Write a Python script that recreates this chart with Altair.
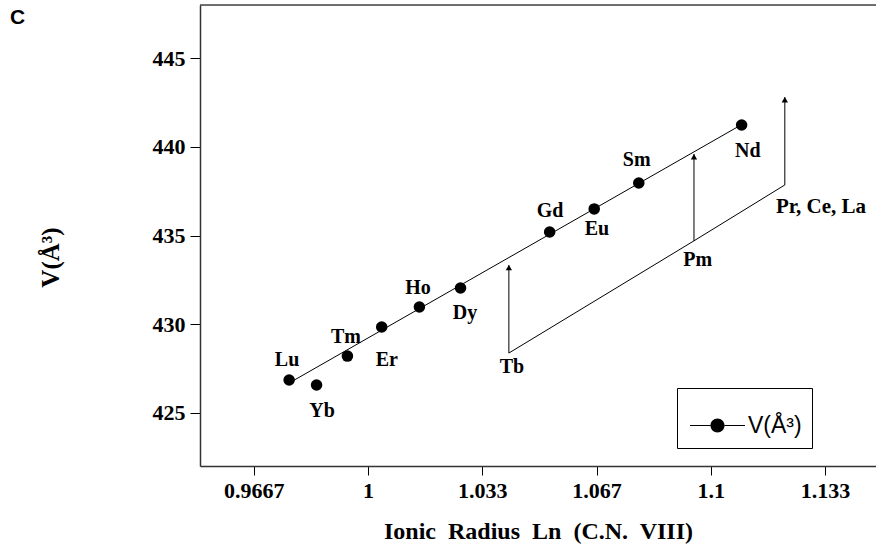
import altair as alt
import pandas as pd

# Lanthanide series: ionic radius (C.N. VIII, Å) vs. unit-cell volume (Å^3)
elements = ["Lu", "Yb", "Tm", "Er", "Ho", "Dy", "Gd", "Eu", "Sm", "Nd"]
radius = [0.977, 0.985, 0.994, 1.004, 1.015, 1.027, 1.053, 1.066, 1.079, 1.109]
volume = [426.85, 426.57, 428.20, 429.84, 430.97, 432.04, 435.20, 436.50, 437.96, 441.23]

# Straight trend line through the measured series
fit_radius = [0.977, 1.1088]
fit_volume = [426.68, 441.23]

# Ions without data: base on the shifted guide line, arrow tip above it
missing_names = ["Tb", "Pm", "Pr, Ce, La"]
missing_radius = [1.0411, 1.0951, 1.1216]
missing_base = [428.37, 434.70, 437.85]
missing_top = [433.34, 439.60, 442.81]

# Label anchors for the element names
label_text = ["Lu", "Yb", "Tm", "Er", "Ho", "Dy", "Gd", "Eu", "Sm", "Nd", "Tb", "Pm"]
label_x = [0.9764, 0.9866, 0.9936, 1.0055, 1.0146, 1.0283, 1.0531, 1.0668, 1.0784, 1.1108, 1.0420, 1.0962]
label_y = [427.98, 425.10, 429.28, 427.98, 432.04, 430.63, 436.38, 435.37, 439.26, 439.77, 427.58, 433.62]
group_label = ["Pr, Ce, La"]
group_label_x = [1.1190]
group_label_y = [436.61]

# Axis ticks
x_tick_values = [0.966667, 1.0, 1.033333, 1.066667, 1.1, 1.133333]
x_tick_labels = ["0.9667", "1", "1.033", "1.067", "1.1", "1.133"]
y_tick_values = [425, 430, 435, 440, 445]

X_DOMAIN = [0.951, 1.1482]
Y_DOMAIN = [422, 448]
series_name = "V(Å³)"

serif = "Liberation Serif"
sans = "Liberation Sans"

points = pd.DataFrame({"r": radius, "v": volume, "el": elements, "series": series_name})
fit = pd.DataFrame({"r": fit_radius, "v": fit_volume})
missing = pd.DataFrame({"r": missing_radius, "base": missing_base, "top": missing_top, "name": missing_names})
labels = pd.DataFrame({"r": label_x, "v": label_y, "t": label_text})
glabels = pd.DataFrame({"r": group_label_x, "v": group_label_y, "t": group_label})
frame_top = pd.DataFrame({"r": [X_DOMAIN[0]], "r2": [X_DOMAIN[1]], "v": [Y_DOMAIN[1]]})

# tick label lookup expression
label_expr = f"'{x_tick_labels[-1]}'"
for val, lab in reversed(list(zip(x_tick_values[:-1], x_tick_labels[:-1]))):
    label_expr = f"datum.value < {val + 0.01} ? '{lab}' : {label_expr}"

xscale = alt.Scale(domain=X_DOMAIN, nice=False, zero=False)
yscale = alt.Scale(domain=Y_DOMAIN, nice=False, zero=False)

x_axis = alt.Axis(
    values=x_tick_values, labelExpr=label_expr, grid=False,
    tickSize=9, tickColor="black", tickWidth=1,
    labelPadding=5, labelFont=serif, labelFontWeight="bold", labelFontSize=22, labelColor="black",
    domainColor="#333333", domainWidth=1.5,
    title="Ionic\u00a0 Radius\u00a0 Ln\u00a0 (C.N.\u00a0 VIII)",
    titleFont=serif, titleFontWeight="bold", titleFontSize=24, titleColor="black",
    titleY=72, titleBaseline="alphabetic",
)
y_axis = alt.Axis(
    values=y_tick_values, grid=False,
    tickSize=10, tickColor="black", tickWidth=1,
    labelPadding=5, labelFont=serif, labelFontWeight="bold", labelFontSize=22, labelColor="black",
    domainColor="#333333", domainWidth=1.5,
    title=series_name, titleFont=serif, titleFontWeight="bold", titleFontSize=25, titleColor="black",
    titleAngle=270, titleX=-142, titleY=252, titleBaseline="alphabetic", titleAlign="center",
)


def X(field):
    return alt.X(field, type="quantitative", scale=xscale, axis=x_axis)


def Y(field):
    return alt.Y(field, type="quantitative", scale=yscale, axis=y_axis)


# legend glyph: short line with a filled dot in the middle
legend_symbol = (
    "M-1,-0.02L-0.25,-0.02L-0.25,0.02L-1,0.02Z"
    "M0.25,-0.02L1,-0.02L1,0.02L0.25,0.02Z"
    "M-0.255,0A0.255,0.255,0,1,0,0.255,0A0.255,0.255,0,1,0,-0.255,0Z"
)

top_rule = alt.Chart(frame_top).mark_rule(color="#444444", strokeWidth=1.5).encode(
    x=X("r"), x2="r2", y=Y("v")
)

fit_line = alt.Chart(fit).mark_line(color="black", strokeWidth=1).encode(x=X("r"), y=Y("v"))

guide_line = alt.Chart(missing).mark_line(color="black", strokeWidth=1).encode(x=X("r"), y=Y("base"))

arrows = alt.Chart(missing).mark_rule(color="black", strokeWidth=1).encode(
    x=X("r"), y=Y("base"), y2="top"
)

heads = alt.Chart(missing).mark_point(
    shape="triangle-up", filled=True, color="black", size=40, opacity=1, yOffset=2.7
).encode(x=X("r"), y=Y("top"))

dots = alt.Chart(points).mark_point(filled=True, size=133, opacity=1).encode(
    x=X("r"),
    y=Y("v"),
    color=alt.Color(
        "series:N",
        scale=alt.Scale(range=["black"]),
        legend=alt.Legend(
            title=None, orient="none", legendX=477, legendY=383,
            symbolType=legend_symbol, symbolSize=3025, symbolStrokeWidth=0,
            symbolOffset=3, labelOffset=3,
            labelFont=sans, labelFontSize=23, labelColor="black", labelLimit=300,
            strokeColor="black", fillColor="white", padding=10,
        ),
    ),
)

names = alt.Chart(labels).mark_text(
    font=serif, fontWeight="bold", fontSize=20, color="black", align="center", baseline="middle"
).encode(x=X("r"), y=Y("v"), text="t:N")

group_names = alt.Chart(glabels).mark_text(
    font=serif, fontWeight="bold", fontSize=21, color="black", align="left", baseline="middle"
).encode(x=X("r"), y=Y("v"), text="t:N")

chart = (
    alt.layer(top_rule, fit_line, guide_line, arrows, heads, dots, names, group_names)
    .properties(
        width=676,
        height=461,
        autosize=alt.AutoSizeParams(type="none"),
        padding={"left": 200, "top": 5, "right": 0, "bottom": 85},
        title=alt.TitleParams(
            "C", anchor="start", frame="group", dx=-190, offset=-24, baseline="top",
            font=sans, fontWeight="bold", fontSize=21, color="black",
        ),
    )
    .configure_view(strokeWidth=0)
    .configure_legend(strokeWidth=1.5)
    .configure(background="white")
)

chart.save("out.html", embed_options={"renderer": "svg", "actions": False})
